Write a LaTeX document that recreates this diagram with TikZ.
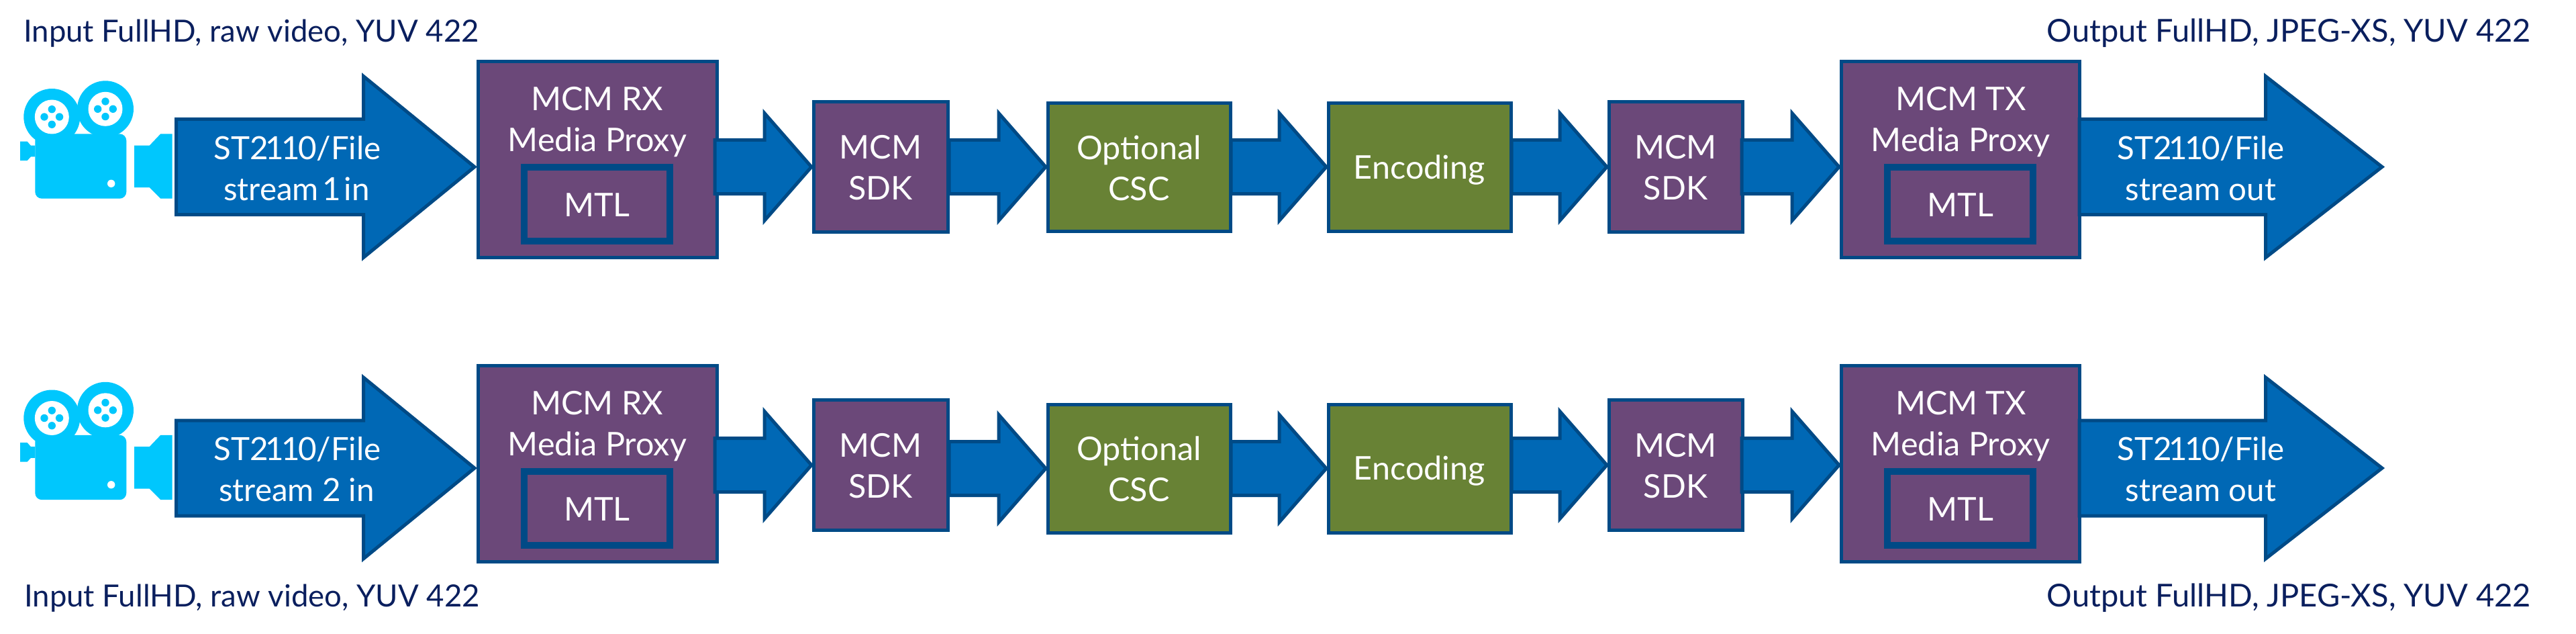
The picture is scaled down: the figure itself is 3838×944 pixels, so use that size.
\documentclass[tikz,border=0pt]{standalone}
\usepackage{fontspec}
\setmainfont{Lato}
\usetikzlibrary{calc}
\definecolor{flowblue}{HTML}{0068B5}
\definecolor{edgeblue}{HTML}{004A86}
\definecolor{mcmpurple}{HTML}{6B4879}
\definecolor{stepgreen}{HTML}{688235}
\definecolor{camcyan}{HTML}{00C7FD}
\definecolor{navytext}{HTML}{0A1F5E}
\tikzset{
  x=1pt,y=-1pt,
  boxlabel/.style={font=\fontsize{48.5}{62}\selectfont,text=white,align=center,inner sep=0pt,anchor=base},
  flowlabel/.style={font=\fontsize{47.5}{62}\selectfont,text=white,align=center,inner sep=0pt,anchor=base},
  basebox/.style={draw=edgeblue,line width=5pt,inner sep=0pt},
  purplebox/.style={basebox,fill=mcmpurple},
  greenbox/.style={basebox,fill=stepgreen},
  mtlbox/.style={draw=edgeblue,line width=10pt,fill=mcmpurple,inner sep=0pt},
  flowarrow/.style={draw=edgeblue,fill=flowblue,line width=5pt,miter limit=20},
  caption/.style={text=navytext,inner sep=0pt},
  cam/.style={fill=camcyan,draw=none},
  camhole/.style={fill=white,draw=none},
}
% block arrow between two boxes: from, to, overlap into "from", centre y
\newcommand\smallflow[4]{%
  \coordinate (m) at (0,#4);
  \path (#1.east |- m) ++(-#3,0) coordinate (s);
  \path (#2.west |- m) ++(-1,0) coordinate (t);
  \draw[flowarrow] ($(s)+(0,-40)$) -- ($(t)+(-70,-40)$) -- ($(t)+(-70,-80)$) -- (t)
     -- ($(t)+(-70,80)$) -- ($(t)+(-70,40)$) -- ($(s)+(0,40)$) -- cycle;
}
% large block arrow: from coordinate, to coordinate, head length
\newcommand\bigflow[3]{%
  \draw[flowarrow] ($(#1)+(0,-71)$) -- ($(#2)+(-#3,-71)$) -- ($(#2)+(-#3,-135)$) -- (#2)
     -- ($(#2)+(-#3,135)$) -- ($(#2)+(-#3,71)$) -- ($(#1)+(0,71)$) -- cycle;
}
\newcommand\reel[2]{%
  \fill[camhole] (#1,#2) circle[radius=25.5];
  \foreach \dx/\dy in {11.3/0,-11.3/0,0/11.3,0/-11.3}
    \fill[cam] (#1+\dx,#2+\dy) circle[radius=5.7];
}
\newcommand\camera{%
  \fill[cam] (77.3,174) circle[radius=42];
  \fill[cam] (157,162.3) circle[radius=42];
  \fill[cam,rounded corners=10pt] (52.3,199.3) rectangle (188.3,295.7);
  \fill[cam] (30,210.7) -- (40.7,210.7) -- (46,216.7) -- (52.3,216.7) -- (52.3,233.3) -- (46,233.3) -- (40.7,239) -- (30,239) -- cycle;
  \fill[cam] (200,216.7) -- (222.7,216.7) -- (239.3,199.3) -- (256.7,199.3) -- (256.7,295.7) -- (239.3,295.7) -- (222.7,279) -- (200,279) -- cycle;
  \reel{77.3}{174}
  \reel{157}{162.3}
  \fill[camhole] (165.7,273.3) circle[radius=5.7];
}
% #1 suffix, #2 stream label, #3 proxy offset, #4 SDK offset, #5 green offset,
% #6 big arrow offset, #7 second/third arrow offset
\newcommand\rowcontent[7]{%
  \begin{scope}[yshift=-#6 pt]\camera\end{scope}
  \coordinate (start#1) at (262.5,248.5+#6);
  \coordinate (stop#1) at (3549,248.5+#6);
  \node[purplebox,minimum width=356pt,minimum height=292pt] (rx#1) at (890.5,237.5+#3) {};
  \node[boxlabel] (rxt#1) at (889.7,164.7+#3) {MCM RX};
  \node[boxlabel] (rxm#1) at (890,225.7+#3) {Media Proxy};
  \node[mtlbox,minimum width=217pt,minimum height=110pt] (rxl#1) at (889.5,304+#3) {};
  \node[boxlabel] (rxlt#1) at (889.5,322.7+#3) {MTL};
  \node[purplebox,minimum width=200pt,minimum height=194pt] (sa#1) at (1312.5,248.5+#4) {};
  \node[boxlabel] (sat#1) at (1312,236.7+#4) {MCM};
  \node[boxlabel] (sab#1) at (1312,297.7+#4) {SDK};
  \node[greenbox,minimum width=272pt,minimum height=191pt] (csc#1) at (1697.5,249+#5) {};
  \node[boxlabel] (csct#1) at (1697,237+#5) {Optional};
  \node[boxlabel] (cscb#1) at (1697,298+#5) {CSC};
  \node[greenbox,minimum width=272pt,minimum height=191pt] (enc#1) at (2115.5,249+#5) {};
  \node[boxlabel] (enct#1) at (2114.7,266+#5) {Encoding};
  \node[purplebox,minimum width=199pt,minimum height=194pt] (sb#1) at (2497,248.5+#4) {};
  \node[boxlabel] (sbt#1) at (2496.5,236.7+#4) {MCM};
  \node[boxlabel] (sbb#1) at (2496.5,297.7+#4) {SDK};
  \node[purplebox,minimum width=355pt,minimum height=292pt] (tx#1) at (2921,237.5+#3) {};
  \node[boxlabel] (txt#1) at (2921.5,164.7+#3) {MCM TX};
  \node[boxlabel] (txm#1) at (2921,225.7+#3) {Media Proxy};
  \node[mtlbox,minimum width=217pt,minimum height=110pt] (txl#1) at (2920.5,304+#3) {};
  \node[boxlabel] (txlt#1) at (2921,322.7+#3) {MTL};
  % connectors
  \coordinate (m0) at (0,248.5+#6);
  \path (rx#1.west |- m0) ++(-3,0) coordinate (into#1);
  \bigflow{start#1}{into#1}{165.5}
  \smallflow{rx#1}{sa#1}{6}{248.5+#4}
  \smallflow{sa#1}{csc#1}{1}{248.5+#7}
  \smallflow{csc#1}{enc#1}{2}{248.5+#7}
  \smallflow{enc#1}{sb#1}{2}{248.5+#4}
  \smallflow{sb#1}{tx#1}{4}{248.5+#4}
  \path (tx#1.east |- m0) ++(-3,0) coordinate (outof#1);
  \bigflow{outof#1}{stop#1}{173.5}
  \node[flowlabel] (ina#1) at (443,237+#6) {ST2\kern-4pt 1\kern-4pt 1\kern-3pt 0/File};
  \node[flowlabel] (inb#1) at (442,298+#6) {#2};
  \node[flowlabel] (outa#1) at (3279,237+#6) {ST2\kern-4pt 1\kern-4pt 1\kern-3pt 0/File};
  \node[flowlabel] (outb#1) at (3279,298+#6) {stream out};
}
\begin{document}
\begin{tikzpicture}
\useasboundingbox (0,0) rectangle (3838,944);
\fill[white] (0,0) rectangle (3838,944);
\rowcontent{A}{stream\kern-7pt\ 1\kern-7pt\ in}{0}{0}{0}{0}{0}
\rowcontent{B}{stream 2 in}{453}{444}{448.5}{448.5}{449}
\node[caption,font=\fontsize{45.5}{56}\selectfont,anchor=base west] (capia) at (35,63) {Input FullHD, raw video, YUV 422};
\node[caption,font=\fontsize{47}{56}\selectfont,anchor=base east] (capoa) at (3771,63) {Output FullHD, JPEG-XS, YUV 422};
\node[caption,font=\fontsize{45.5}{56}\selectfont,anchor=base west] (capib) at (36,903) {Input FullHD, raw video, YUV 422};
\node[caption,font=\fontsize{47}{56}\selectfont,anchor=base east] (capob) at (3771,903) {Output FullHD, JPEG-XS, YUV 422};
\end{tikzpicture}
\end{document}
